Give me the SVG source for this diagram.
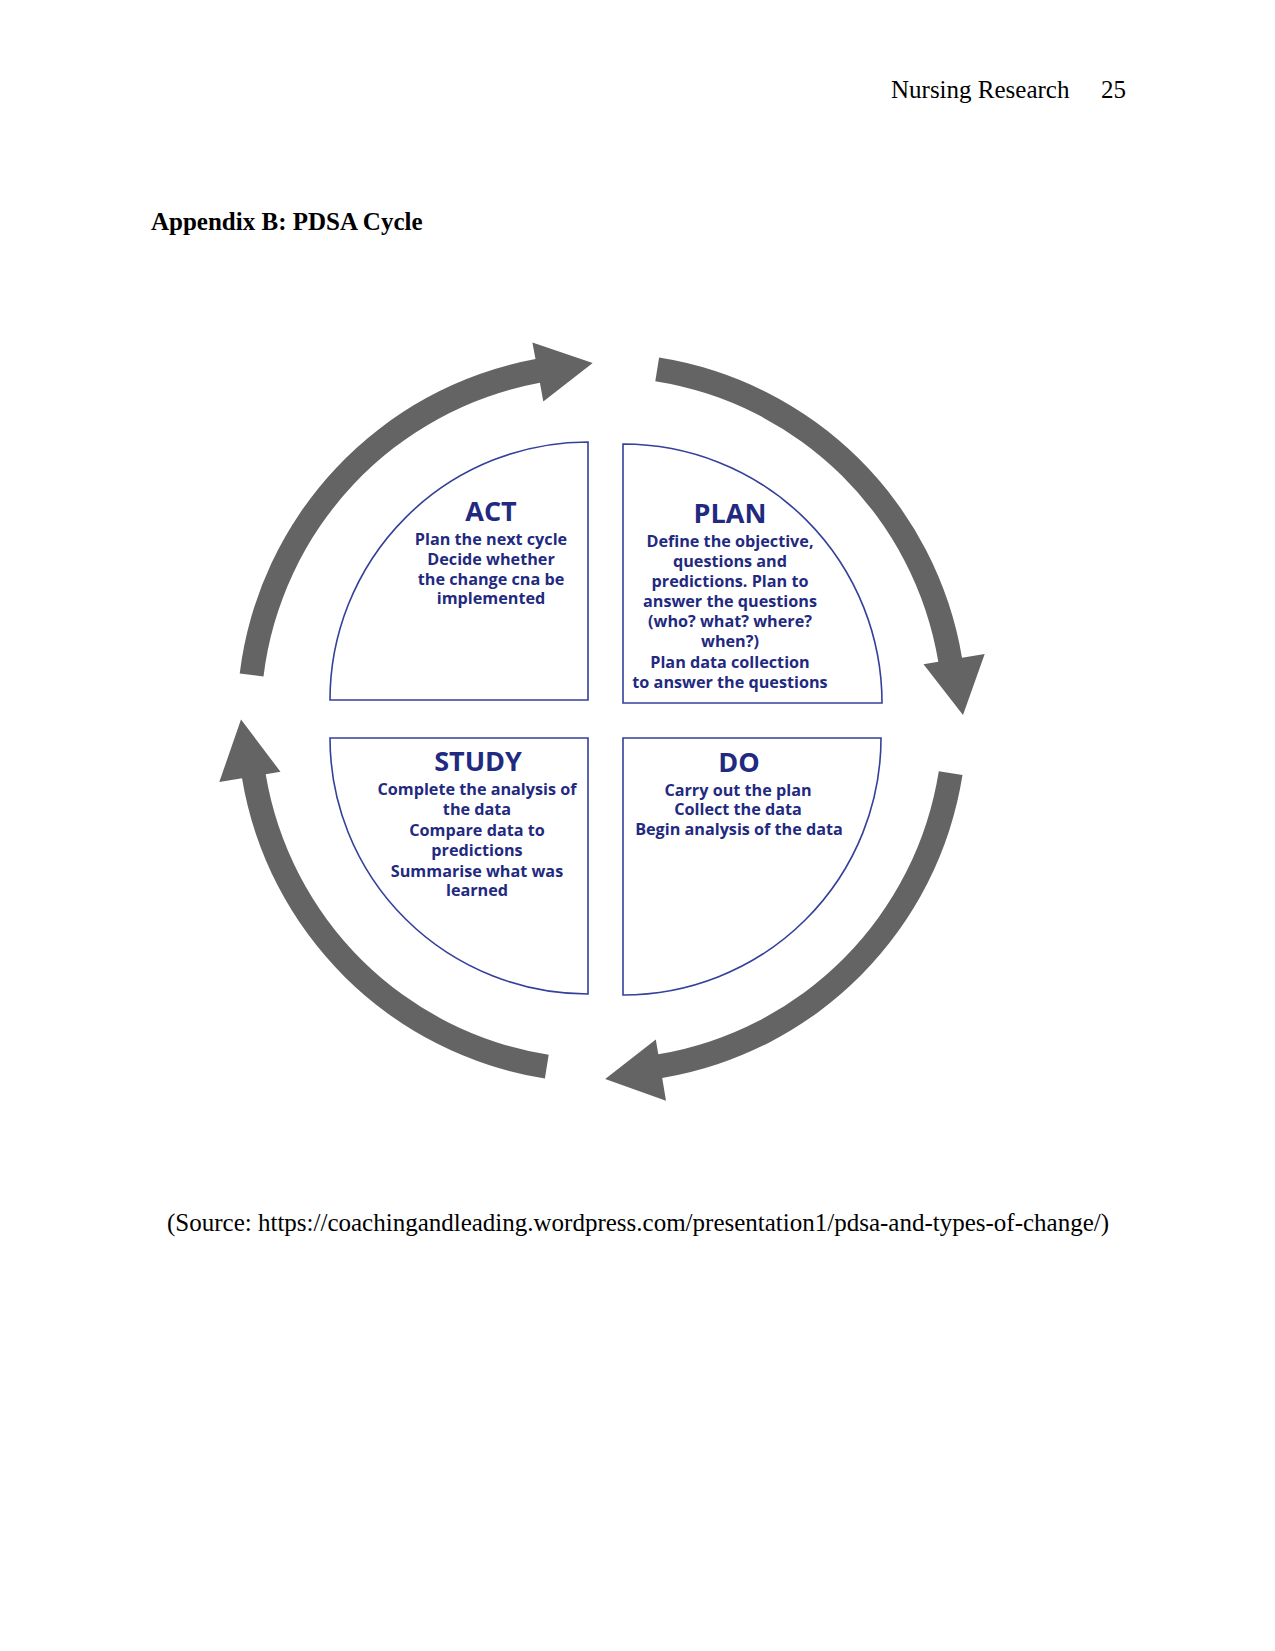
<svg xmlns="http://www.w3.org/2000/svg" width="1275" height="1651" viewBox="0 0 1275 1651">
<style>
.page{font-family:"Liberation Serif","Times New Roman",serif;font-size:25px;fill:#000}
.bold{font-weight:bold}
.box{fill:#fff;stroke:#34409a;stroke-width:1.6}
.title{font-family:"Open Sans","Noto Sans",sans-serif;font-weight:700;font-size:27px;fill:#1f2a80;text-anchor:middle}
.body{font-family:"Open Sans","Noto Sans",sans-serif;font-weight:700;font-size:16.2px;fill:#1f2a80;text-anchor:middle}
.arrow{fill:#646464}
</style>
<rect width="1275" height="1651" fill="#fff"/>
<text class="page" x="891" y="98">Nursing Research</text>
<text class="page" x="1101" y="98">25</text>
<text class="page bold" x="151" y="230">Appendix B: PDSA Cycle</text>
<text class="page" x="167" y="1231">(Source: https://coachingandleading.wordpress.com/presentation1/pdsa-and-types-of-change/)</text>

<g id="connectors">
<path class="arrow" d="M659.1,357.5 A365,365 0 0 1 962.0,657.8 L984.7,654.0 L963,714.9 L923.5,664.2 L938.3,661.7 A341,341 0 0 0 655.3,381.2 Z"/>
<path class="arrow" d="M962.5,775.1 A365,365 0 0 1 662.2,1078.0 L666.0,1100.7 L605.2,1079.0 L655.8,1039.5 L658.3,1054.3 A341,341 0 0 0 938.8,771.3 Z"/>
<path class="arrow" d="M544.9,1078.5 A365,365 0 0 1 242.0,778.2 L219.3,782.0 L241.0,719.5 L280.5,771.8 L265.7,774.3 A341,341 0 0 0 548.7,1054.8 Z"/>
<path class="arrow" d="M239.7,673.5 A365,365 0 0 1 535.5,359.1 L532.4,342.4 L592.7,363.1 L543.3,401.4 L539.9,382.7 A341,341 0 0 0 263.5,676.4 Z"/>
</g>

<g id="act">
<path class="box" d="M330,700 A258,258 0 0 1 588,442 L588,700 Z"/>
<text class="title" x="491" y="521">ACT</text>
<text class="body" x="491" y="545">Plan the next cycle</text>
<text class="body" x="491" y="565">Decide whether</text>
<text class="body" x="491" y="585">the change cna be</text>
<text class="body" x="491" y="604">implemented</text>
</g>

<g id="plan">
<path class="box" d="M623,444 A259,259 0 0 1 882,703 L623,703 Z"/>
<text class="title" x="730" y="523">PLAN</text>
<text class="body" x="730" y="547">Define the objective,</text>
<text class="body" x="730" y="567">questions and</text>
<text class="body" x="730" y="587">predictions. Plan to</text>
<text class="body" x="730" y="607">answer the questions</text>
<text class="body" x="730" y="627">(who? what? where?</text>
<text class="body" x="730" y="647">when?)</text>
<text class="body" x="730" y="668">Plan data collection</text>
<text class="body" x="730" y="688">to answer the questions</text>
</g>

<g id="study">
<path class="box" d="M330,738 L588,738 L588,994 A258,256 0 0 1 330,738 Z"/>
<text class="title" x="478" y="771">STUDY</text>
<text class="body" x="477" y="795">Complete the analysis of</text>
<text class="body" x="477" y="815">the data</text>
<text class="body" x="477" y="836">Compare data to</text>
<text class="body" x="477" y="856">predictions</text>
<text class="body" x="477" y="877">Summarise what was</text>
<text class="body" x="477" y="896">learned</text>
</g>

<g id="do">
<path class="box" d="M623,738 L881,738 A258,257 0 0 1 623,995 Z"/>
<text class="title" x="739" y="772">DO</text>
<text class="body" x="738" y="796">Carry out the plan</text>
<text class="body" x="738" y="815">Collect the data</text>
<text class="body" x="739" y="835">Begin analysis of the data</text>
</g>
</svg>
